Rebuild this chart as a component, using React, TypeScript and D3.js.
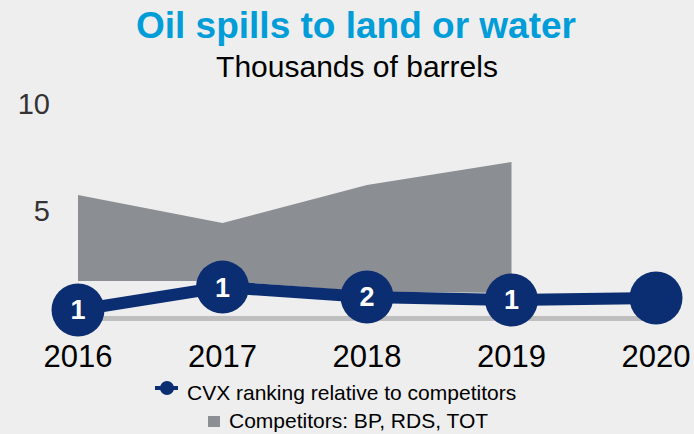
import React from 'react';
import * as d3 from 'd3';

// data (thousands of barrels)
const years = ['2016', '2017', '2018', '2019', '2020'];
const cvxValues = [0.33, 1.4, 0.94, 0.8, 0.89];
const cvxRanks = ['1', '1', '2', '1', ''];
const competitorYears = ['2016', '2017', '2018', '2019'];
const competitorHigh = [5.71, 4.4, 6.18, 7.26];
const competitorLow = [1.69, 1.69, 1.2, 1.12];
const yTicks = [5, 10];

const W = 694;
const H = 434;
const NAVY = '#0b2d71';
const FONT = '"Liberation Sans", Arial, sans-serif';

export default function App(): JSX.Element {
  const x = d3.scalePoint<string>().domain(years).range([78, 656]);
  const y = d3.scaleLinear().domain([0, 10]).range([317, 103.5]);

  const area = d3
    .area<number>()
    .x((_, i) => x(competitorYears[i]) as number)
    .y0((_, i) => y(competitorLow[i]))
    .y1((d) => y(d));

  const line = d3
    .line<number>()
    .x((_, i) => x(years[i]) as number)
    .y((d) => y(d));

  return (
    <svg
      width={W}
      height={H}
      style={{ position: 'absolute', left: 0, top: 0, background: '#eeeeee' }}
      fontFamily={FONT}
    >
      <rect width={W} height={H} fill="#eeeeee" />

      {/* titles */}
      <text x={356} y={38} textAnchor="middle" fontSize={37} fontWeight="bold" fill="#009dd9">
        Oil spills to land or water
      </text>
      <text x={357} y={77} textAnchor="middle" fontSize={30} fill="#000">
        Thousands of barrels
      </text>

      {/* y tick labels */}
      {yTicks.map((t) => (
        <text key={t} x={50} y={y(t) + 10.5} textAnchor="end" fontSize={29} fill="#333">
          {t}
        </text>
      ))}

      {/* competitor range */}
      <path d={area(competitorHigh) || ''} fill="#8b8e92" />

      {/* baseline */}
      <line
        x1={x(years[0])}
        x2={x(years[years.length - 1])}
        y1={y(0) + 1.5}
        y2={y(0) + 1.5}
        stroke="#bfbfbf"
        strokeWidth={5}
      />

      {/* CVX line */}
      <path d={line(cvxValues) || ''} fill="none" stroke={NAVY} strokeWidth={12} />
      {cvxValues.map((v, i) => (
        <g key={years[i]} transform={`translate(${x(years[i])},${y(v)})`}>
          <circle r={26.5} fill={NAVY} />
          <text y={9.5} textAnchor="middle" fontSize={27} fontWeight="bold" fill="#fff">
            {cvxRanks[i]}
          </text>
        </g>
      ))}

      {/* x labels */}
      {years.map((yr) => (
        <text key={yr} x={x(yr)} y={367} textAnchor="middle" fontSize={31} fill="#000">
          {yr}
        </text>
      ))}

      {/* legend */}
      <line x1={155} x2={178} y1={388} y2={388} stroke={NAVY} strokeWidth={4} />
      <circle cx={167} cy={388} r={7} fill={NAVY} />
      <text x={187} y={400} fontSize={21} fill="#000">
        CVX ranking relative to competitors
      </text>
      <rect x={208} y={416} width={12} height={11} fill="#8b8e92" />
      <text x={229} y={428} fontSize={21} fill="#000">
        Competitors: BP, RDS, TOT
      </text>
    </svg>
  );
}
